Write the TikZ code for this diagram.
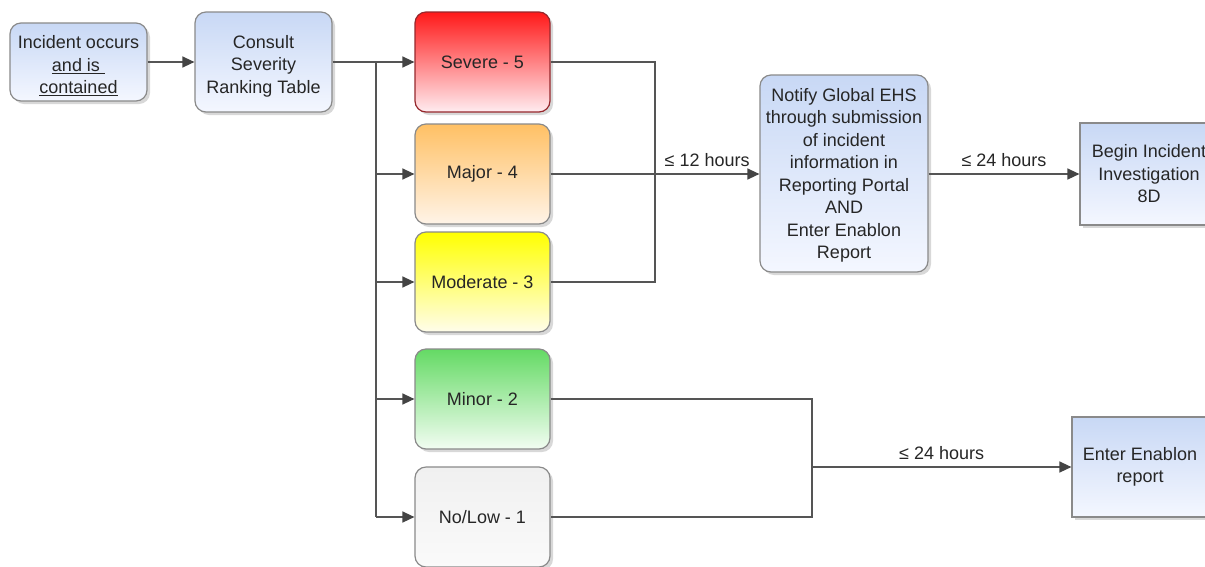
\documentclass[tikz,border=0pt]{standalone}
\usepackage{fontspec}
\setmainfont{Liberation Sans}
\usetikzlibrary{arrows.meta,shadows}
\definecolor{linegray}{HTML}{555555}
\definecolor{tipgray}{HTML}{444444}
\definecolor{boxgray}{HTML}{8A8A8A}
\definecolor{txt}{HTML}{262626}
\definecolor{bluetop}{RGB}{200,216,245}
\definecolor{bluebot}{RGB}{244,247,255}
\definecolor{redtop}{RGB}{255,25,25}
\definecolor{redbot}{RGB}{255,236,240}
\definecolor{redborder}{RGB}{150,40,45}
\definecolor{orangetop}{RGB}{255,192,100}
\definecolor{orangebot}{RGB}{255,244,232}
\definecolor{yellowtop}{RGB}{255,255,0}
\definecolor{yellowbot}{RGB}{255,253,235}
\definecolor{greentop}{RGB}{100,218,100}
\definecolor{greenbot}{RGB}{242,253,242}
\definecolor{graytop}{RGB}{240,240,240}
\definecolor{graybot}{RGB}{250,250,250}
\newcommand{\lowerby}{\rule{0pt}{21pt}}
\tikzset{
  basebox/.style={draw=boxgray, line width=1.2pt, align=center, text=txt,
    font=\fontsize{18}{22.5}\selectfont, inner sep=2pt,
    drop shadow={shadow xshift=3pt, shadow yshift=-3pt, opacity=0.3}},
  roundbox/.style={basebox, rounded corners=11pt},
  bluebox/.style={top color=bluetop, bottom color=bluebot},
  sevbox/.style={roundbox, minimum width=135pt, minimum height=100pt},
  line/.style={draw=linegray, line width=1.4pt},
  arr/.style={line, -{Triangle[length=12pt,width=11pt,color=tipgray]}},
  lbl/.style={font=\fontsize{18}{22}\selectfont, text=txt, inner sep=7pt}
}
\begin{document}
\begin{tikzpicture}[x=1pt,y=-1pt]
\clip (0,0) rectangle (1205,566);
\fill[white] (0,0) rectangle (1205,566);

\node[roundbox, bluebox, minimum width=137pt, minimum height=78pt] (inc) at (78.5,62)
  {\lowerby Incident occurs\\\underline{and is\ }\\\underline{contained}};
\node[roundbox, bluebox, minimum width=137pt, minimum height=100pt] (con) at (263.5,62)
  {\lowerby Consult\\Severity\\Ranking Table};

\node[sevbox, draw=redborder, top color=redtop, bottom color=redbot] (sev) at (482.5,62) {Severe - 5};
\node[sevbox, top color=orangetop, bottom color=orangebot] (maj) at (482.5,174) {Major - 4};
\node[sevbox, top color=yellowtop, bottom color=yellowbot] (mod) at (482.5,282) {Moderate - 3};
\node[sevbox, top color=greentop, bottom color=greenbot] (min) at (482.5,399) {Minor - 2};
\node[sevbox, top color=graytop, bottom color=graybot] (low) at (482.5,517) {No/Low - 1};

\node[roundbox, bluebox, minimum width=168pt, minimum height=197pt] (notify) at (844,173.5)
  {\rule{0pt}{17pt}Notify Global EHS\\through submission\\of incident\\information in\\Reporting Portal\\AND\\Enter Enablon\\Report};
\node[basebox, bluebox, minimum width=138pt, minimum height=102pt] (begin) at (1149,174)
  {Begin Incident\\Investigation\\8D};
\node[basebox, bluebox, minimum width=136pt, minimum height=100pt] (enter) at (1140,467)
  {Enter Enablon\\report};

\coordinate (trunkT) at (376,62);
\coordinate (trunkB) at (376,517);
\coordinate (bus) at (655,174);
\coordinate (bus2) at (812,467);

\draw[arr] (inc.east) -- (inc.east -| con.west);
\draw[arr] (con.east) -- (con.east -| sev.west);
\draw[line] (trunkT) -- (trunkB);
\draw[arr] (trunkT |- maj.west) -- (maj.west);
\draw[arr] (trunkT |- mod.west) -- (mod.west);
\draw[arr] (trunkT |- min.west) -- (min.west);
\draw[arr] (trunkB) -- (low.west);

\draw[line] (sev.east) -| (bus |- mod.east) -- (mod.east);
\draw[line] (maj.east) -- (bus);
\draw[arr] (bus) -- (bus -| notify.west) node[lbl, midway, above] {≤ 12 hours};
\draw[arr] (notify.east |- begin.west) -- (begin.west) node[lbl, midway, above] {≤ 24 hours};

\draw[line] (min.east) -| (bus2 |- low.east) -- (low.east);
\draw[arr] (bus2) -- (bus2 -| enter.west) node[lbl, midway, above] {≤ 24 hours};
\end{tikzpicture}
\end{document}
